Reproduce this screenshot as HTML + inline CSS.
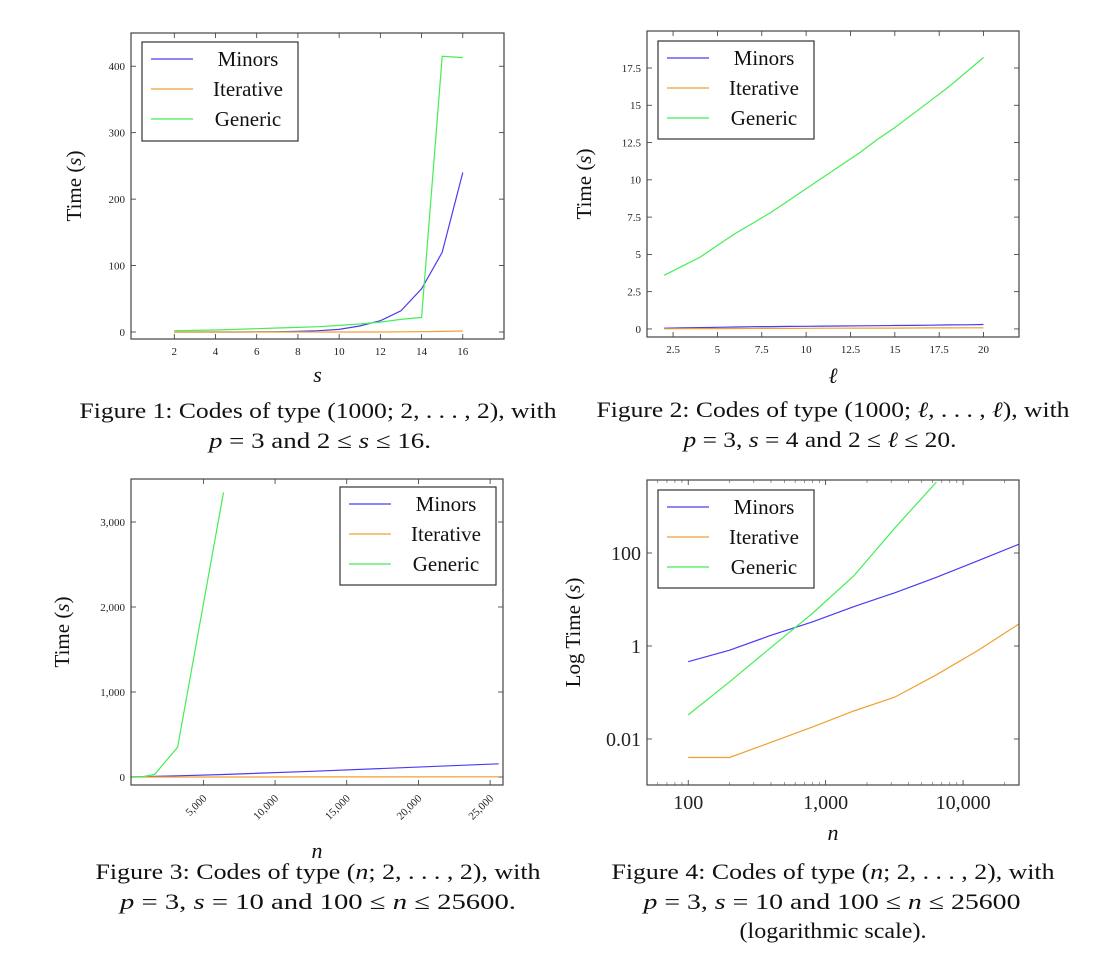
<!DOCTYPE html>
<html><head><meta charset="utf-8"><style>
html,body{margin:0;padding:0;background:#fff}
svg{display:block;font-family:"Liberation Serif",serif}
.cap{font-size:22px;fill:#111}
</style></head><body>
<svg id="svg" width="1107" height="970" viewBox="0 0 1107 970">
<defs id="defs"></defs>
<text class="cap" x="318" y="418" text-anchor="middle" textLength="477" lengthAdjust="spacingAndGlyphs">Figure 1:  Codes of type (1000; 2, . . . , 2), with</text>
<text class="cap" x="320" y="448" text-anchor="middle" textLength="222" lengthAdjust="spacingAndGlyphs"><tspan font-style="italic">p</tspan> = 3 and 2 ≤ <tspan font-style="italic">s</tspan> ≤ 16.</text>
<text class="cap" x="833" y="417" text-anchor="middle" textLength="473" lengthAdjust="spacingAndGlyphs">Figure 2:  Codes of type (1000; <tspan font-style="italic">ℓ</tspan>, . . . , <tspan font-style="italic">ℓ</tspan>), with</text>
<text class="cap" x="820" y="447" text-anchor="middle" textLength="273" lengthAdjust="spacingAndGlyphs"><tspan font-style="italic">p</tspan> = 3, <tspan font-style="italic">s</tspan> = 4 and 2 ≤ <tspan font-style="italic">ℓ</tspan> ≤ 20.</text>
<text class="cap" x="318" y="879" text-anchor="middle" textLength="445" lengthAdjust="spacingAndGlyphs">Figure 3:  Codes of type (<tspan font-style="italic">n</tspan>; 2, . . . , 2), with</text>
<text class="cap" x="318" y="909" text-anchor="middle" textLength="396" lengthAdjust="spacingAndGlyphs"><tspan font-style="italic">p</tspan> = 3, <tspan font-style="italic">s</tspan> = 10 and 100 ≤ <tspan font-style="italic">n</tspan> ≤ 25600.</text>
<text class="cap" x="833" y="879" text-anchor="middle" textLength="443" lengthAdjust="spacingAndGlyphs">Figure 4:  Codes of type (<tspan font-style="italic">n</tspan>; 2, . . . , 2), with</text>
<text class="cap" x="832" y="909" text-anchor="middle" textLength="377" lengthAdjust="spacingAndGlyphs"><tspan font-style="italic">p</tspan> = 3, <tspan font-style="italic">s</tspan> = 10 and 100 ≤ <tspan font-style="italic">n</tspan> ≤ 25600</text>
<text class="cap" x="833" y="938" text-anchor="middle" textLength="187" lengthAdjust="spacingAndGlyphs">(logarithmic scale).</text>
</svg>
<script>
// ---- Chart 1 data ----
const c1X = [2,3,4,5,6,7,8,9,10,11,12,13,14,15,16];
const c1Minors = [0,0,0,0,0.2,0.5,1,2,4,9,17,32,65,120,240];
const c1Iterative = [0,0,0,0,0,0,0,0,0,0,0,0.3,0.5,1,1.5];
const c1Generic = [2,2.5,3,4,5,6,7,8,10,12,15,19,22,415,413];
const c1XTicks = [2,4,6,8,10,12,14,16];
const c1YTicks = [0,100,200,300,400];
// ---- Chart 2 data ----
const c2X = [2,3,4,5,6,7,8,9,10,11,12,13,14,15,16,17,18,19,20];
const c2Minors = [0.05,0.07,0.09,0.11,0.13,0.15,0.16,0.17,0.18,0.19,0.2,0.21,0.22,0.23,0.24,0.25,0.27,0.28,0.3];
const c2Iterative = [0.01,0.015,0.02,0.025,0.03,0.035,0.04,0.04,0.045,0.05,0.05,0.055,0.06,0.06,0.065,0.07,0.07,0.075,0.08];
const c2Generic = [3.6,4.2,4.8,5.6,6.4,7.1,7.8,8.6,9.4,10.2,11.0,11.8,12.7,13.5,14.4,15.3,16.2,17.2,18.2];
const c2XTicks = [2.5,5,7.5,10,12.5,15,17.5,20];
const c2YTicks = [0,2.5,5,7.5,10,12.5,15,17.5];
// ---- Chart 3/4 data (same runs) ----
const nX = [100,200,400,800,1600,3200,6400,12800,25600];
const nMinors = [0.46,0.81,1.7,3.3,7,14,30,68,155];
const nIterative = [0.004,0.004,0.0085,0.018,0.04,0.08,0.24,0.8,3];
const nGeneric = [0.033,0.17,0.93,5,32,350,3350];
const nGenericX = [100,200,400,800,1600,3200,6400];
const c3XTicks = [5000,10000,15000,20000,25000];
const c3YTicks = [0,1000,2000,3000];
const c4XTicks = [100,1000,10000];
const c4YTicks = [0.01,1,100];

const NS='http://www.w3.org/2000/svg';
const svg=document.getElementById('svg');
const defs=document.getElementById('defs');
const COL={Minors:'#4a3cf2',Iterative:'#f0a030',Generic:'#44ee55'};
function mk(tag,attrs,parent){const e=document.createElementNS(NS,tag);for(const k in attrs)e.setAttribute(k,attrs[k]);(parent||svg).appendChild(e);return e;}
const fmt=v=>v>=1000?v.toLocaleString('en-US'):String(v);
let cid=0;
function chart(cfg){
  const g=mk('g',{});
  
  
  const L=cfg.L,R=cfg.R,T=cfg.T,B=cfg.B;
  const cp=mk('clipPath',{id:'cp'+(++cid)},defs);
  mk('rect',{x:L,y:T,width:R-L,height:B-T},cp);
  const tr=v=>cfg.log?Math.log10(v):v;
  const sx=v=>L+(tr(v)-cfg.xmin)/(cfg.xmax-cfg.xmin)*(R-L);
  const sy=v=>B-(tr(v)-cfg.ymin)/(cfg.ymax-cfg.ymin)*(B-T);
  cfg.xTicks.forEach(t=>{const x=sx(t);
    const a=mk('line',{x1:x,x2:x,y1:B,y2:B-5,stroke:'#333','stroke-width':0.8},g);
    
    mk('line',{x1:x,x2:x,y1:T,y2:T+5,stroke:'#333','stroke-width':0.8},g);
    const lb=cfg.rotX?mk('text',{x:x+4,y:B+14,'font-size':11,'text-anchor':'end',transform:`rotate(-45 ${x+4} ${B+14})`,fill:'#222'},g)
      :mk('text',{x:x,y:B+cfg.xlOff,'font-size':cfg.tfs,'text-anchor':'middle',fill:'#222'},g);
    lb.textContent=fmt(t);
    
  });
  cfg.yTicks.forEach(t=>{const y=sy(t);
    const a=mk('line',{x1:L,x2:L+5,y1:y,y2:y,stroke:'#333','stroke-width':0.8},g);
    
    mk('line',{x1:R,x2:R-5,y1:y,y2:y,stroke:'#333','stroke-width':0.8},g);
    const lb=mk('text',{x:L-6,y:y+cfg.tfs*0.35,'font-size':cfg.tfs,'text-anchor':'end',fill:'#222'},g);
    lb.textContent=fmt(t);
    
  });
  if(cfg.log){
    for(let d=1;d<=4;d++)for(let m=2;m<=9;m++){const v=m*Math.pow(10,d);const lv=Math.log10(v);
      if(lv<cfg.xmin||lv>cfg.xmax)continue;const x=sx(v);
      mk('line',{x1:x,x2:x,y1:B,y2:B-3,stroke:'#555','stroke-width':0.6},g);
      mk('line',{x1:x,x2:x,y1:T,y2:T+3,stroke:'#555','stroke-width':0.6},g);}
  }
  const sg=mk('g',{'clip-path':'url(#cp'+cid+')'},g);
  cfg.series.forEach(s=>{
    const pts=s.x.map((xv,i)=>sx(xv).toFixed(1)+','+sy(s.y[i]).toFixed(1)).join(' ');
    const p=mk('polyline',{points:pts,fill:'none',stroke:COL[s.n],'stroke-width':1.2},sg);
    
    
  });
  const fr=mk('rect',{x:L,y:T,width:R-L,height:B-T,fill:'none',stroke:'#444','stroke-width':1.2},g);
  
  const lg=cfg.lg;
  const lgb=mk('rect',{x:lg.x,y:lg.y,width:lg.w,height:lg.h,fill:'#fff',stroke:'#333','stroke-width':1.2},g);
  
  ['Minors','Iterative','Generic'].forEach((n,i)=>{const y=lg.y+17+i*30;
    mk('line',{x1:lg.x+9,x2:lg.x+51,y1:y,y2:y,stroke:COL[n],'stroke-width':1.2},g);
    const t=mk('text',{x:lg.x+(lg.w+56)/2,y:y+7,'font-size':21,'text-anchor':'middle',fill:'#111'},g);
    t.textContent=n;
    
  });
  const yt=mk('text',{x:cfg.ylx,y:(T+B)/2+7,'font-size':21,'text-anchor':'middle',transform:`rotate(-90 ${cfg.ylx} ${(T+B)/2})`,fill:'#111'},g);
  yt.innerHTML=cfg.ylab+' (<tspan font-style="italic">s</tspan>)';
  
  const xt=mk('text',{x:(L+R)/2,y:cfg.xly,'font-size':22,'font-style':'italic','text-anchor':'middle',fill:'#111'},g);
  xt.textContent=cfg.xlab;
  
}

chart({name:'chart-figure-1',L:131,R:504,T:33,B:339,xmin:-0.1,xmax:18,ymin:-10.5,ymax:450,
  xTicks:c1XTicks,yTicks:c1YTicks,tfs:11,xlOff:16,lg:{x:142,y:42,w:156,h:99},ylx:74,ylab:'Time',xlab:'s',xly:382,
  series:[{n:'Minors',x:c1X,y:c1Minors},{n:'Iterative',x:c1X,y:c1Iterative},{n:'Generic',x:c1X,y:c1Generic}]});
chart({name:'chart-figure-2',L:647,R:1019,T:31,B:337,xmin:1.03,xmax:22,ymin:-0.54,ymax:19.98,
  xTicks:c2XTicks,yTicks:c2YTicks,tfs:11,xlOff:16,lg:{x:658,y:41,w:156,h:98},ylx:584,ylab:'Time',xlab:'ℓ',xly:383,
  series:[{n:'Minors',x:c2X,y:c2Minors},{n:'Iterative',x:c2X,y:c2Iterative},{n:'Generic',x:c2X,y:c2Generic}]});
chart({name:'chart-figure-3',L:131,R:503,T:479,B:785,xmin:-50,xmax:25900,ymin:-94,ymax:3506,rotX:true,
  xTicks:c3XTicks,yTicks:c3YTicks,tfs:11,xlOff:16,lg:{x:340,y:487,w:156,h:98},ylx:62,ylab:'Time',xlab:'n',xly:858,
  series:[{n:'Minors',x:nX,y:nMinors},{n:'Iterative',x:nX,y:nIterative},{n:'Generic',x:nGenericX,y:nGeneric}]});
chart({name:'chart-figure-4',L:647,R:1019,T:480,B:785,log:true,xmin:1.70,xmax:4.407,ymin:-2.99,ymax:3.57,
  xTicks:c4XTicks,yTicks:c4YTicks,tfs:20,xlOff:24,lg:{x:658,y:490,w:156,h:98},ylx:573,ylab:'Log Time',xlab:'n',xly:840,
  series:[{n:'Minors',x:nX,y:nMinors},{n:'Iterative',x:nX,y:nIterative},{n:'Generic',x:nGenericX,y:nGeneric}]});
</script>
</body></html>
